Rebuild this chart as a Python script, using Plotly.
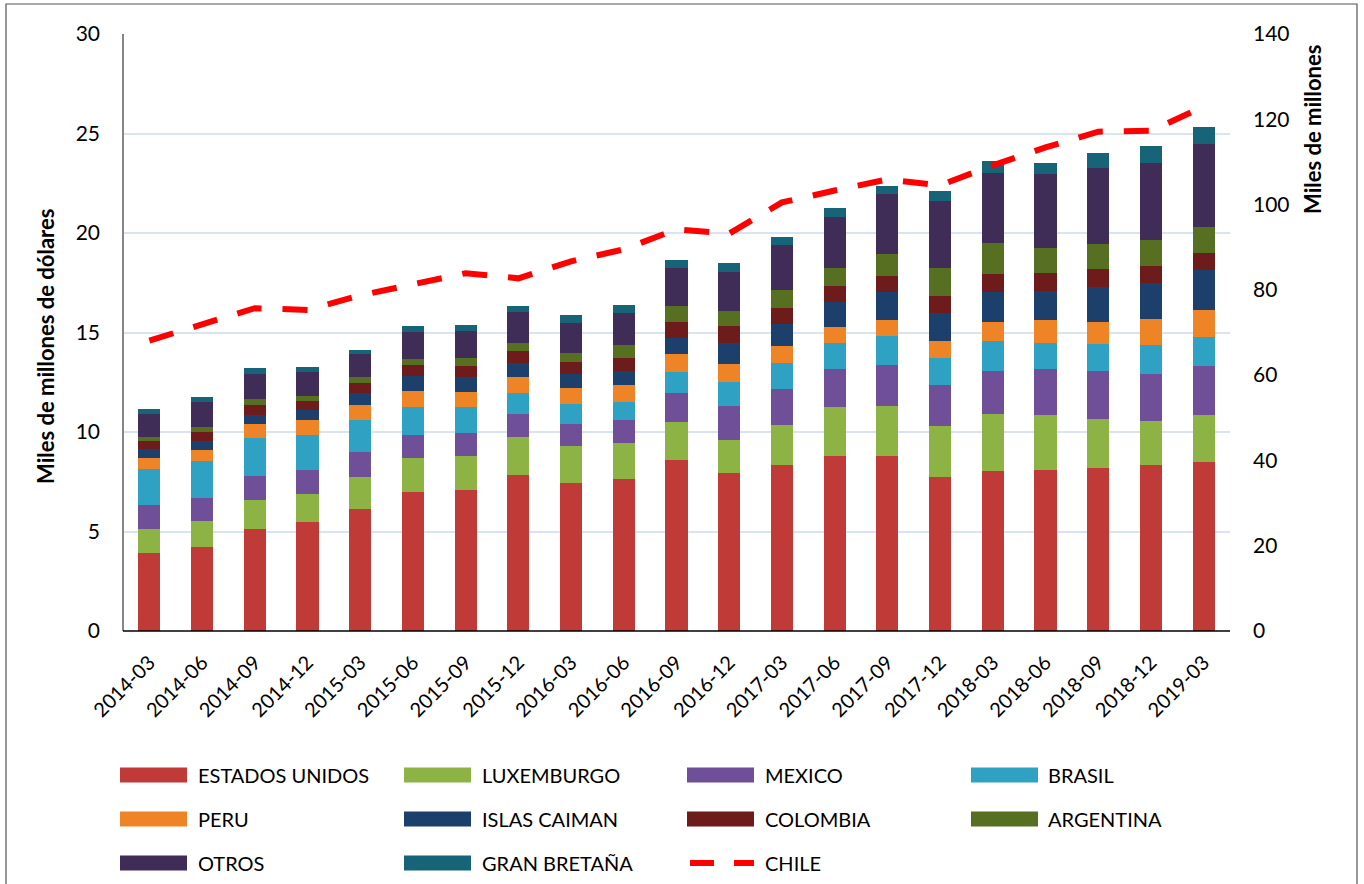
import plotly.graph_objects as go

periods = ["2014-03", "2014-06", "2014-09", "2014-12", "2015-03", "2015-06", "2015-09",
           "2015-12", "2016-03", "2016-06", "2016-09", "2016-12", "2017-03", "2017-06",
           "2017-09", "2017-12", "2018-03", "2018-06", "2018-09", "2018-12", "2019-03"]

estados_unidos = [3.92, 4.22, 5.13, 5.49, 6.13, 6.98, 7.09, 7.84, 7.44, 7.64, 8.59, 7.94, 8.34, 8.79, 8.79, 7.74, 8.02, 8.09, 8.19, 8.33, 8.50]
luxemburgo = [1.21, 1.31, 1.45, 1.39, 1.61, 1.71, 1.71, 1.91, 1.86, 1.81, 1.91, 1.66, 2.01, 2.47, 2.52, 2.56, 2.86, 2.76, 2.45, 2.21, 2.35]
mexico = [1.21, 1.17, 1.22, 1.22, 1.26, 1.16, 1.14, 1.15, 1.10, 1.15, 1.44, 1.72, 1.81, 1.91, 2.06, 2.06, 2.21, 2.32, 2.43, 2.35, 2.46]
brasil = [1.81, 1.84, 1.91, 1.75, 1.61, 1.41, 1.33, 1.06, 1.01, 0.91, 1.08, 1.19, 1.31, 1.30, 1.45, 1.36, 1.46, 1.28, 1.34, 1.49, 1.45]
peru = [0.55, 0.55, 0.69, 0.75, 0.75, 0.80, 0.75, 0.80, 0.80, 0.85, 0.90, 0.91, 0.85, 0.81, 0.81, 0.85, 1.00, 1.16, 1.14, 1.30, 1.35]
islas_caiman = [0.45, 0.45, 0.45, 0.50, 0.60, 0.75, 0.75, 0.71, 0.70, 0.71, 0.80, 1.05, 1.11, 1.25, 1.41, 1.41, 1.51, 1.50, 1.74, 1.79, 2.01]
colombia = [0.40, 0.47, 0.50, 0.45, 0.50, 0.55, 0.55, 0.60, 0.61, 0.65, 0.81, 0.86, 0.80, 0.81, 0.80, 0.85, 0.90, 0.87, 0.90, 0.85, 0.86]
argentina = [0.20, 0.23, 0.30, 0.25, 0.30, 0.30, 0.40, 0.40, 0.45, 0.65, 0.80, 0.75, 0.91, 0.90, 1.10, 1.41, 1.56, 1.29, 1.24, 1.35, 1.30]
otros = [1.17, 1.27, 1.27, 1.22, 1.16, 1.37, 1.36, 1.58, 1.49, 1.61, 1.93, 1.96, 2.26, 2.56, 3.02, 3.37, 3.52, 3.67, 3.84, 3.84, 4.17]
gran_bretana = [0.24, 0.24, 0.29, 0.23, 0.20, 0.29, 0.30, 0.28, 0.42, 0.40, 0.38, 0.45, 0.40, 0.46, 0.40, 0.50, 0.60, 0.60, 0.73, 0.85, 0.86]
chile = [68.1, 71.8, 75.7, 75.3, 78.7, 81.3, 83.9, 82.7, 86.7, 89.5, 94.2, 93.2, 100.5, 103.3, 105.9, 104.5, 109.2, 113.4, 117.1, 117.3, 123.0]

series = [
    ("ESTADOS UNIDOS", estados_unidos, "#c03a38"),
    ("LUXEMBURGO", luxemburgo, "#8cb343"),
    ("MEXICO", mexico, "#6f4f98"),
    ("BRASIL", brasil, "#2fa2c3"),
    ("PERU", peru, "#ef8427"),
    ("ISLAS CAIMAN", islas_caiman, "#1c3f6c"),
    ("COLOMBIA", colombia, "#6d1b1b"),
    ("ARGENTINA", argentina, "#566f21"),
    ("OTROS", otros, "#3f2c57"),
    ("GRAN BRETAÑA", gran_bretana, "#176377"),
]

FONT = "Lato"
W, H = 1364, 884
L, R, T, B = 123, 1230, 34, 631
PW, PH = R - L, B - T


def px(x):
    return (x - L) / PW


def py(y):
    return (B - y) / PH


fig = go.Figure()
for name, vals, col in series:
    fig.add_trace(go.Bar(x=periods, y=vals, name=name, marker=dict(color=col, line=dict(width=0)),
                         showlegend=False))

fig.add_trace(go.Scatter(x=periods, y=chile, name="CHILE", yaxis="y2", mode="lines",
                         line=dict(color="#ff0000", width=6, dash="25px,21px"), showlegend=False))

shapes = []
annotations = []

# frame around whole image
shapes.append(dict(type="rect", xref="paper", yref="paper", x0=px(6), x1=px(1357), y0=py(890), y1=py(4),
                   line=dict(color="#555555", width=1.2), fillcolor="rgba(0,0,0,0)", layer="below"))
# left axis line (grey)
shapes.append(dict(type="line", xref="paper", yref="paper", x0=0, x1=0, y0=0, y1=1,
                   line=dict(color="#868686", width=2)))
# bottom axis line
shapes.append(dict(type="line", xref="paper", yref="paper", x0=0, x1=1, y0=0, y1=0,
                   line=dict(color="#000000", width=1.5)))

# custom legend
legend_items = [(n, c) for n, _, c in series] + [("CHILE", None)]
col_sw = [120, 404, 687, 971]
col_tx = [196, 480, 763, 1046]
row_y = [775, 819, 863]
for i, (name, col) in enumerate(legend_items):
    r, c = divmod(i, 4)
    yc = row_y[r]
    if col is not None:
        shapes.append(dict(type="rect", xref="paper", yref="paper", x0=px(col_sw[c]), x1=px(col_sw[c] + 67),
                           y0=py(yc + 7.5), y1=py(yc - 7.5), fillcolor=col, line=dict(width=0)))
    else:
        shapes.append(dict(type="line", xref="paper", yref="paper", x0=px(col_sw[c] + 3), x1=px(col_sw[c] + 67),
                           y0=py(yc), y1=py(yc), line=dict(color="#ff0000", width=6, dash="24px,20px")))
    annotations.append(dict(text=name, xref="paper", yref="paper", x=px(col_tx[c]), y=py(yc),
                            xanchor="left", yanchor="middle", showarrow=False,
                            font=dict(family=FONT, size=20, color="#000000")))

# axis titles
annotations.append(dict(text="<b>Miles de millones de dólares</b>", xref="paper", yref="paper",
                        x=px(45), y=py(347), textangle=-90, showarrow=False,
                        xanchor="center", yanchor="middle",
                        font=dict(family=FONT, size=22, color="#000000")))
annotations.append(dict(text="<b>Miles de millones</b>", xref="paper", yref="paper",
                        x=px(1312), y=py(130), textangle=-90, showarrow=False,
                        xanchor="center", yanchor="middle",
                        font=dict(family=FONT, size=22, color="#000000")))

fig.update_layout(
    width=W, height=H,
    margin=dict(l=L, r=W - R, t=T, b=H - B, pad=0),
    paper_bgcolor="white", plot_bgcolor="white",
    barmode="stack", bargap=0.58,
    font=dict(family=FONT, size=19, color="#000000"),
    xaxis=dict(type="category", tickangle=-45, showgrid=False, showline=False, ticks="",
               tickfont=dict(family=FONT, size=20, color="#000000"), ticklabelstandoff=15),
    yaxis=dict(range=[0, 30], dtick=5, showgrid=True, gridcolor="#d9e3f1", gridwidth=1.5,
               zeroline=False, showline=False, ticks="", ticklabelstandoff=22,
               tickfont=dict(family=FONT, size=21, color="#000000")),
    yaxis2=dict(range=[0, 140], dtick=20, overlaying="y", side="right", showgrid=False,
                zeroline=False, showline=False, ticks="", ticklabelstandoff=22,
                tickfont=dict(family=FONT, size=21, color="#000000")),
    shapes=shapes,
    annotations=annotations,
    showlegend=False,
)

fig.write_html("out.html", config={"displayModeBar": False},
               post_script="document.body.style.margin='0';document.body.style.overflow='hidden';")
